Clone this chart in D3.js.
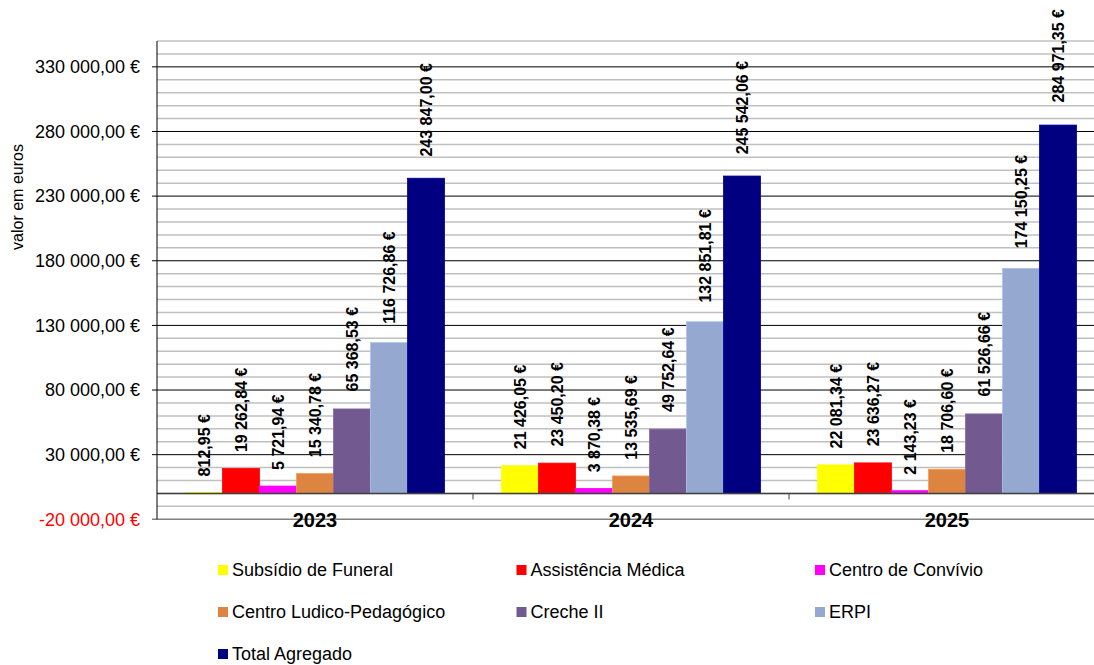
<!DOCTYPE html>
<html>
<head>
<meta charset="utf-8">
<script src="https://cdn.jsdelivr.net/npm/d3@7/dist/d3.min.js"></script>
<style>
  body { margin: 0; background: #fff; }
  svg { display: block; font-family: Arial, "Liberation Sans", sans-serif; }
</style>
</head>
<body>
<svg width="1094" height="665"></svg>
<script>
// chart data
var years = ["2023", "2024", "2025"];
var series = ["Subsídio de Funeral", "Assistência Médica", "Centro de Convívio",
  "Centro Ludico-Pedagógico", "Creche II", "ERPI", "Total Agregado"];
var colors = ["#ffff00", "#ff0000", "#ff00ff", "#dd8540", "#725a90", "#95a9d0", "#000080"];
var values2023 = [812.95, 19262.84, 5721.94, 15340.78, 65368.53, 116726.86, 243847.00];
var values2024 = [21426.05, 23450.20, 3870.38, 13535.69, 49752.64, 132851.81, 245542.06];
var values2025 = [22081.34, 23636.27, 2143.23, 18706.60, 61526.66, 174150.25, 284971.35];
var yTicks = [-20000, 30000, 80000, 130000, 180000, 230000, 280000, 330000];

var valuesByYear = [values2023, values2024, values2025];

var svg = d3.select("svg");
var plotL = 157, plotR = 1105, plotT = 41, plotB = 519.3;

var pt = d3.formatLocale({ decimal: ",", thousands: "\u00a0", grouping: [3], currency: ["", " €"], minus: "-" });
var fmt = pt.format("$,.2f");

var y = d3.scaleLinear().domain([-20000, 350000]).range([plotB, plotT]);
var x0 = d3.scaleBand().domain(years).range([plotL, plotR]);
var x1 = d3.scaleBand().domain(series).range([0, x0.bandwidth()])
  .paddingInner(0).paddingOuter(0.77);

// minor grid every 10 000
var minor = d3.range(-10000, 350001, 10000).filter(function(v) { return (v + 20000) % 50000 != 0; });
svg.append("g").selectAll("line").data(minor).enter().append("line")
  .attr("x1", plotL).attr("x2", plotR)
  .attr("y1", function(d) { return y(d); }).attr("y2", function(d) { return y(d); })
  .attr("stroke", "#c0c0c0").attr("stroke-width", 1.5);

// major grid
svg.append("g").selectAll("line").data(yTicks).enter().append("line")
  .attr("x1", plotL - 5).attr("x2", plotR)
  .attr("y1", function(d) { return y(d); }).attr("y2", function(d) { return y(d); })
  .attr("stroke", function(d) { return d == -20000 ? "#808080" : "#000"; })
  .attr("stroke-width", function(d) { return d == -20000 ? 1.5 : 1; });

// bars
var groups = svg.append("g").selectAll("g").data(years).enter().append("g")
  .attr("transform", function(d) { return "translate(" + x0(d) + ",0)"; });

var bars = groups.selectAll("rect")
  .data(function(d, i) { return series.map(function(s, j) { return { s: s, v: valuesByYear[i][j], c: colors[j] }; }); })
  .enter();

bars.append("rect")
  .attr("x", function(d) { return x1(d.s); })
  .attr("width", x1.bandwidth())
  .attr("y", function(d) { return y(d.v); })
  .attr("height", function(d) { return y(0) - y(d.v); })
  .attr("fill", function(d) { return d.c; })
  .attr("stroke", function(d) { return d3.color(d.c).brighter(0.4); })
  .attr("stroke-width", 0.8);

bars.append("text")
  .attr("transform", function(d) {
    var h = y(0) - y(d.v);
    return "translate(" + (x1(d.s) + x1.bandwidth() / 2) + "," + (y(d.v) - 16 - h * 0.018) + ") rotate(-90)";
  })
  .attr("dy", "0.36em")
  .attr("font-size", 16).attr("font-weight", "bold")
  .text(function(d) { return fmt(d.v); });

// category axis at zero
svg.append("line").attr("x1", plotL).attr("x2", plotR)
  .attr("y1", y(0)).attr("y2", y(0))
  .attr("stroke", "#404040").attr("stroke-width", 1.5);
svg.append("g").selectAll("line").data(years.slice(1)).enter().append("line")
  .attr("x1", function(d) { return x0(d); }).attr("x2", function(d) { return x0(d); })
  .attr("y1", y(0)).attr("y2", y(0) + 6)
  .attr("stroke", "#404040");

svg.append("g").selectAll("text").data(years).enter().append("text")
  .attr("x", function(d) { return x0(d) + x0.bandwidth() / 2; })
  .attr("y", 527)
  .attr("text-anchor", "middle")
  .attr("font-size", 20).attr("font-weight", "bold")
  .text(function(d) { return d; });

// value axis
svg.append("line").attr("x1", plotL).attr("x2", plotL)
  .attr("y1", plotT).attr("y2", plotB)
  .attr("stroke", "#000");

svg.append("g").selectAll("text").data(yTicks).enter().append("text")
  .attr("x", 140)
  .attr("y", function(d) { return y(d); })
  .attr("dy", "0.35em")
  .attr("text-anchor", "end")
  .attr("font-size", 18)
  .attr("fill", function(d) { return d < 0 ? "#ff0000" : "#000"; })
  .text(function(d) { return fmt(d); });

svg.append("text")
  .attr("transform", "translate(17,197) rotate(-90)")
  .attr("dy", "0.35em")
  .attr("text-anchor", "middle")
  .attr("font-size", 16)
  .text("valor em euros");

// legend
var legend = svg.append("g").selectAll("g").data(series).enter().append("g")
  .attr("transform", function(d, i) {
    return "translate(" + (218 + (i % 3) * 298.5) + "," + (570 + Math.floor(i / 3) * 42) + ")";
  });
legend.append("rect")
  .attr("x", 0).attr("y", -5).attr("width", 10).attr("height", 10)
  .attr("fill", function(d, i) { return colors[i]; });
legend.append("text")
  .attr("x", 14).attr("dy", "0.35em")
  .attr("font-size", 18)
  .text(function(d) { return d; });
</script>
</body>
</html>
